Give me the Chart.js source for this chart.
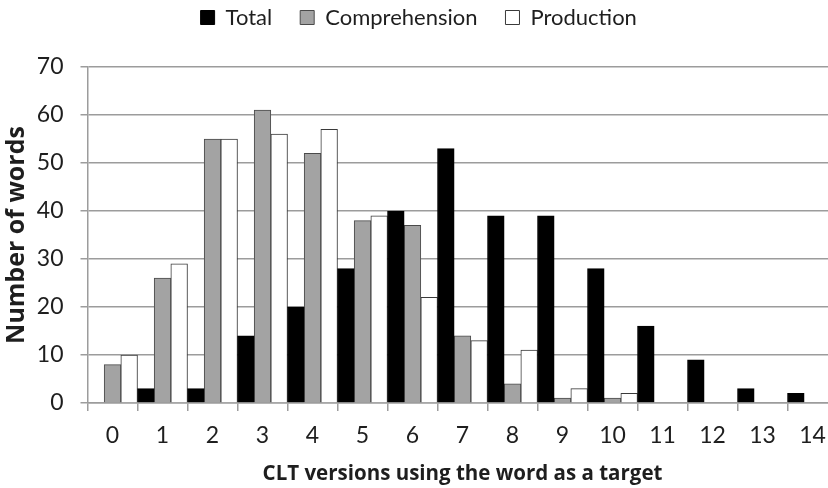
<!DOCTYPE html>
<html>
<head>
<meta charset="utf-8">
<script src="https://cdn.jsdelivr.net/npm/chart.js@4.4.1/dist/chart.umd.min.js"></script>
<style>
  html, body { margin: 0; padding: 0; background: #fff; overflow: hidden; }
  #wrap { width: 840px; height: 488px; position: relative; }
</style>
</head>
<body>
<div id="wrap"><canvas id="myChart"></canvas></div>
<script>
// categories: number of CLT versions using the word as a target
const labels = ['0', '1', '2', '3', '4', '5', '6', '7', '8', '9', '10', '11', '12', '13', '14'];

const total         = [0, 3, 3, 14, 20, 28, 40, 53, 39, 39, 28, 16, 9, 3, 2];
const comprehension = [8, 26, 55, 61, 52, 38, 37, 14, 4, 1, 1, 0, 0, 0, 0];
const production    = [10, 29, 55, 56, 57, 39, 22, 13, 11, 3, 2, 0, 0, 0, 0];

const yTicks = [0, 10, 20, 30, 40, 50, 60, 70];

const xTitle = 'CLT versions using the word as a target';
const yTitle = 'Number of words';

const fontFamily = 'Lato, "Open Sans", sans-serif';
const titleFamily = '"Open Sans", Lato, sans-serif';
const textColor = '#1e1e1e';
const gridColor = '#9c9c9c';

// push the plot down below the legend
const legendSpace = {
    id: 'legendSpace',
    beforeInit(chart) {
        const fit = chart.legend.fit;
        chart.legend.fit = function () {
            fit.bind(chart.legend)();
            this.height += 28.5;
        };
    }
};

const ctx = document.getElementById('myChart');

const myChart = new Chart(ctx, {
    type: 'bar',
    data: {
        labels: labels,
        datasets: [
            {
                label: 'Total',
                data: total,
                backgroundColor: '#000000',
                borderColor: '#000000',
                borderWidth: 1
            },
            {
                label: 'Comprehension',
                data: comprehension,
                backgroundColor: '#a3a3a3',
                borderColor: '#4a4a4a',
                borderWidth: 1
            },
            {
                label: 'Production',
                data: production,
                backgroundColor: '#ffffff',
                borderColor: '#3a3a3a',
                borderWidth: 1
            }
        ]
    },
    plugins: [legendSpace],
    options: {
        responsive: true,
        maintainAspectRatio: false,
        animation: false,
        datasets: {
            bar: { barPercentage: 1.0, categoryPercentage: 1.0 }
        },
        layout: { padding: { left: 0, right: 2.5, top: -21.5, bottom: 0 } },
        plugins: {
            legend: {
                position: 'top',
                labels: {
                    boxWidth: 14,
                    boxHeight: 14,
                    padding: 28,
                    color: textColor,
                    font: { family: fontFamily, size: 22 }
                }
            },
            tooltip: { enabled: false }
        },
        scales: {
            x: {
                offset: true,
                afterFit: function (scale) { scale.height = 85; },
                grid: {
                    offset: true,
                    drawOnChartArea: false,
                    drawTicks: true,
                    tickLength: 8,
                    color: gridColor,
                    lineWidth: 1.5
                },
                border: { display: true, color: gridColor, width: 1.5 },
                ticks: {
                    color: textColor,
                    padding: 11,
                    maxRotation: 0,
                    font: { family: fontFamily, size: 23 }
                },
                title: {
                    display: true,
                    text: xTitle,
                    color: textColor,
                    padding: { top: 2, bottom: 2 },
                    font: { family: titleFamily, size: 20.5, weight: 'bold' }
                }
            },
            y: {
                min: 0,
                max: 70,
                afterFit: function (scale) { scale.width = 87.5; },
                afterBuildTicks: function (scale) {
                    scale.ticks = yTicks.map(v => ({ value: v }));
                },
                grid: {
                    color: gridColor,
                    lineWidth: 1.5,
                    drawTicks: true,
                    tickLength: 7
                },
                border: { display: true, color: gridColor, width: 1.5 },
                ticks: {
                    color: textColor,
                    padding: 17,
                    font: { family: fontFamily, size: 23 }
                },
                title: {
                    display: true,
                    text: yTitle,
                    color: textColor,
                    padding: { top: 2, bottom: 0 },
                    font: { family: titleFamily, size: 25, weight: 'bold' }
                }
            }
        }
    }
});
</script>
</body>
</html>
